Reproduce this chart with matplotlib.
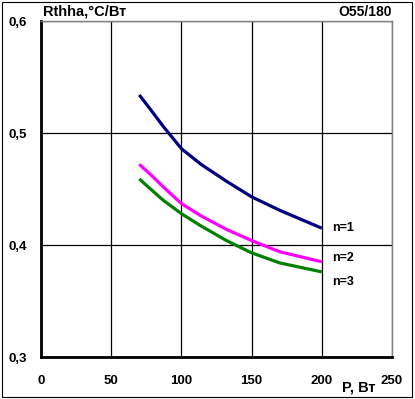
import matplotlib
matplotlib.use("Agg")
import matplotlib.pyplot as plt
from matplotlib.patches import Rectangle

power = [70, 78, 87, 100, 114, 132, 150, 170, 200]
rth_n1 = [0.534, 0.521, 0.506, 0.486, 0.472, 0.457, 0.443, 0.431, 0.415]
rth_n2 = [0.472, 0.463, 0.452, 0.437, 0.426, 0.414, 0.404, 0.394, 0.385]
rth_n3 = [0.459, 0.450, 0.440, 0.428, 0.417, 0.404, 0.393, 0.384, 0.376]
series_labels = ["n=1", "n=2", "n=3"]
label_y = [0.415, 0.388, 0.367]
x_ticks = [0, 50, 100, 150, 200, 250]
y_ticks = [0.3, 0.4, 0.5, 0.6]
y_ticklabels = ["0,3", "0,4", "0,5", "0,6"]

plt.rcParams.update({
    "font.family": ["Liberation Sans", "DejaVu Sans"],
    "font.weight": "bold",
    "font.size": 9,
})

W, H = 415, 399
fig = plt.figure(figsize=(W / 100, H / 100), dpi=100)
ax = fig.add_axes([41 / W, 1 - 357 / H, (392 - 41) / W, (357 - 21) / H])

colors = ["#000080", "#ff00ff", "#008000"]
for vals, col in zip([rth_n1, rth_n2, rth_n3], colors):
    ax.plot(power, vals, color=col, linewidth=2.3, solid_capstyle="butt",
            solid_joinstyle="round", zorder=3)

for lab, yy in zip(series_labels, label_y):
    ax.text(207, yy, lab, ha="left", va="center", fontsize=9, fontweight="bold")

ax.set_xlim(0, 250)
ax.set_ylim(0.3, 0.6)
ax.set_xticks(x_ticks)
ax.set_yticks(y_ticks)
ax.set_yticklabels(y_ticklabels)
ax.tick_params(length=0, labelsize=9.5)
ax.tick_params(axis="x", pad=13)
ax.tick_params(axis="y", pad=10)
ax.grid(True, color="black", linewidth=0.9)
ax.set_axisbelow(True)

for s in ["left", "bottom"]:
    ax.spines[s].set_linewidth(2)
    ax.spines[s].set_color("black")
for s in ["top", "right"]:
    ax.spines[s].set_linewidth(1)
    ax.spines[s].set_color("#808080")

fig.text(43 / W, 1 - 12 / H, "Rthha,°C/Вт", ha="left", va="center", fontsize=10.5)
fig.text(392 / W, 1 - 12 / H, "O55/180", ha="right", va="center", fontsize=10)
fig.text(375 / W, 1 - 388 / H, "P, Вт", ha="right", va="center", fontsize=10.5)

fig.patches.append(Rectangle((2 / W, 2 / H), 410 / W, 395 / H, transform=fig.transFigure,
                             fill=False, edgecolor="black", linewidth=0.8))

fig.savefig("out.png", dpi=100)
